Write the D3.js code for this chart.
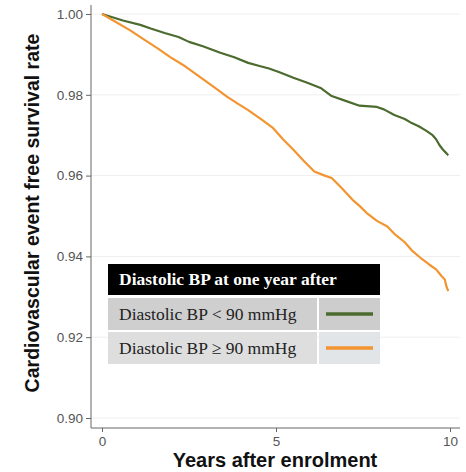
<!DOCTYPE html>
<html><head><meta charset="utf-8">
<script src="https://cdn.jsdelivr.net/npm/d3@7"></script>
<style>body{margin:0;background:#fff}svg{display:block}</style>
</head><body>
<script>
const yTicks = [0.90, 0.92, 0.94, 0.96, 0.98, 1.00];
const xTicks = [0, 5, 10];
const seriesNames = ["Diastolic BP < 90 mmHg", "Diastolic BP \u2265 90 mmHg"];
const legendTitle = "Diastolic BP at one year after";
const greenYears = [0, 0.3, 0.6, 1.1, 1.4, 1.8, 2.2, 2.5, 2.9, 3.4, 3.8, 4.2, 4.5, 4.8, 5.1, 5.5, 5.9, 6.3, 6.6, 7.0, 7.4, 7.9, 8.1, 8.4, 8.7, 8.9, 9.1, 9.3, 9.5, 9.6, 9.7, 9.8, 9.9, 9.95];
const greenSurv  = [1.000, 0.9992, 0.9984, 0.9973, 0.9964, 0.9953, 0.9943, 0.9931, 0.9920, 0.9904, 0.9893, 0.9879, 0.9872, 0.9865, 0.9856, 0.9842, 0.9830, 0.9816, 0.9797, 0.9785, 0.9773, 0.9770, 0.9764, 0.9750, 0.9740, 0.9730, 0.9722, 0.9712, 0.9700, 0.9690, 0.9675, 0.9664, 0.9655, 0.9650];
const orangeYears = [0, 0.3, 0.8, 1.2, 1.6, 1.95, 2.4, 2.8, 3.2, 3.6, 3.9, 4.2, 4.6, 4.9, 5.2, 5.5, 5.8, 6.1, 6.4, 6.6, 6.9, 7.2, 7.4, 7.6, 7.9, 8.2, 8.4, 8.7, 8.9, 9.2, 9.4, 9.6, 9.75, 9.85, 9.9, 9.95];
const orangeSurv  = [1.000, 0.9985, 0.9960, 0.9937, 0.9915, 0.9894, 0.9870, 0.9845, 0.9820, 0.9795, 0.9778, 0.9762, 0.9738, 0.9719, 0.9690, 0.9664, 0.9636, 0.9610, 0.9600, 0.9594, 0.9568, 0.9540, 0.9525, 0.9508, 0.9488, 0.9474, 0.9456, 0.9435, 0.9415, 0.9393, 0.9380, 0.9368, 0.9352, 0.9343, 0.9325, 0.9314];

const W = 466, H = 472;
const green = "#4b6b2f", orange = "#f29430";
const svg = d3.select("body").append("svg").attr("width", W).attr("height", H);

const x = d3.scaleLinear().domain([0, 10]).range([102, 450]);
const y = d3.scaleLinear().domain([0.90, 1.00]).range([418, 14]);
const axisX0 = 91, axisX1 = 460, axisYBottom = 428, axisYTop = 5;
const sans = "Liberation Sans, Arial, sans-serif", serif = "Liberation Serif, Times New Roman, serif";

// gridlines
svg.append("g").selectAll("line").data(yTicks).join("line")
  .attr("x1", axisX0).attr("x2", axisX1)
  .attr("y1", d => y(d)).attr("y2", d => y(d))
  .attr("stroke", "#eeeeee").attr("stroke-width", 1);

// y axis
const yAxis = d3.axisLeft(y).tickValues(yTicks).tickFormat(d3.format(".2f")).tickSize(5).tickPadding(3);
const gy = svg.append("g").attr("transform", `translate(${axisX0},0)`).call(yAxis);
gy.select(".domain").remove();
gy.append("line").attr("x1", 0).attr("x2", 0).attr("y1", axisYTop).attr("y2", axisYBottom).attr("stroke", "#666");
gy.selectAll(".tick line").attr("stroke", "#666");
gy.selectAll(".tick text").attr("fill", "#555").style("font-family", sans).style("font-size", "13.5px");

// x axis
const xAxis = d3.axisBottom(x).tickValues(xTicks).tickFormat(d3.format("d")).tickSize(4).tickPadding(4);
const gx = svg.append("g").attr("transform", `translate(0,${axisYBottom})`).call(xAxis);
gx.select(".domain").remove();
gx.append("line").attr("x1", axisX0).attr("x2", axisX1).attr("y1", 0).attr("y2", 0).attr("stroke", "#666");
gx.selectAll(".tick line").attr("stroke", "#666");
gx.selectAll(".tick text").attr("fill", "#555").style("font-family", sans).style("font-size", "13.5px");

// curves
const line = d3.line().x(d => x(d[0])).y(d => y(d[1]));
svg.append("path").datum(greenYears.map((t, i) => [t, greenSurv[i]]))
  .attr("d", line).attr("fill", "none").attr("stroke", green).attr("stroke-width", 2.2).attr("stroke-linejoin", "round");
svg.append("path").datum(orangeYears.map((t, i) => [t, orangeSurv[i]]))
  .attr("d", line).attr("fill", "none").attr("stroke", orange).attr("stroke-width", 2.2).attr("stroke-linejoin", "round");

// axis titles
svg.append("text").attr("x", 275).attr("y", 467).attr("text-anchor", "middle")
  .style("font-family", sans).style("font-weight", "bold").style("font-size", "20px")
  .attr("fill", "#111").text("Years after enrolment");
svg.append("text").attr("transform", "translate(39,213) rotate(-90)").attr("text-anchor", "middle")
  .style("font-family", sans).style("font-weight", "bold").style("font-size", "19.5px")
  .attr("fill", "#111").text("Cardiovascular event free survival rate");

// legend
const lg = svg.append("g");
const lx = 108, lw = 272, divX = 318;
lg.append("rect").attr("x", lx).attr("y", 264).attr("width", lw).attr("height", 31).attr("fill", "#000");
lg.append("text").attr("x", 119).attr("y", 285).attr("fill", "#fff")
  .style("font-family", serif).style("font-weight", "bold").style("font-size", "17.5px")
  .text(legendTitle);
const rows = [{name: seriesNames[0], color: green, bg: "#cfcfcf", bg2: "#cdcdcd", y: 298},
              {name: seriesNames[1], color: orange, bg: "#dedede", bg2: "#e1e5e8", y: 332}];
rows.forEach(r => {
  lg.append("rect").attr("x", lx).attr("y", r.y).attr("width", divX - lx - 1).attr("height", 32).attr("fill", r.bg);
  lg.append("rect").attr("x", divX + 1).attr("y", r.y).attr("width", lx + lw - divX - 1).attr("height", 32).attr("fill", r.bg2);
  lg.append("text").attr("x", 119).attr("y", r.y + 22).attr("fill", "#222")
    .style("font-family", serif).style("font-size", "17.5px").text(r.name);
  lg.append("line").attr("x1", 326).attr("x2", 373).attr("y1", r.y + 16).attr("y2", r.y + 16)
    .attr("stroke", r.color).attr("stroke-width", 3.5);
});
</script>
</body></html>
